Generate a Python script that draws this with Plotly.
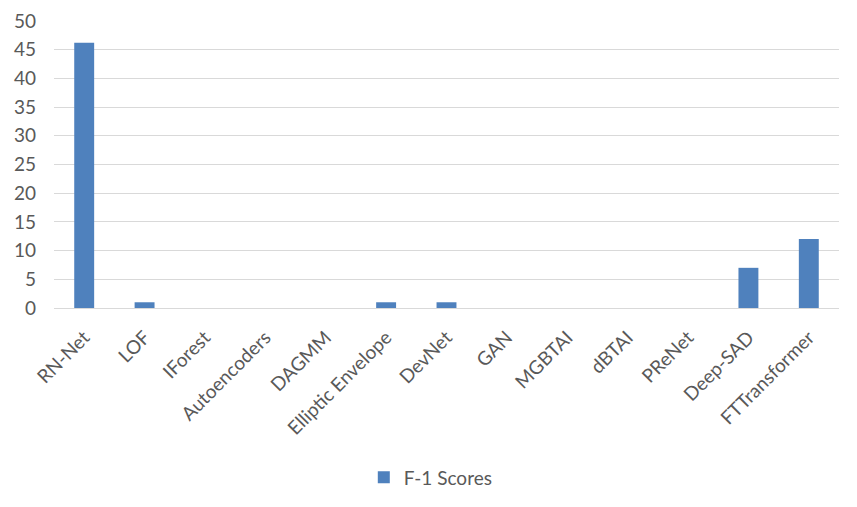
import plotly.graph_objects as go

methods = ["RN-Net", "LOF", "IForest", "Autoencoders", "DAGMM", "Elliptic Envelope",
           "DevNet", "GAN", "MGBTAI", "dBTAI", "PReNet", "Deep-SAD", "FTTransformer"]
f1_scores = [46.2, 1, 0, 0, 0, 1, 1, 0, 0, 0, 0, 7, 12]

fig = go.Figure()
fig.add_trace(go.Bar(
    x=methods, y=f1_scores, name="F-1 Scores",
    marker=dict(color="#4F81BD", line=dict(width=0)),
))

# page body has an 8px margin, so the margins below are shifted by it
fig.update_layout(
    width=857, height=507,
    margin=dict(l=46, r=26, t=13, b=207, autoexpand=False),
    plot_bgcolor="white", paper_bgcolor="white",
    bargap=0.67,
    font=dict(family="Lato, Open Sans, sans-serif", color="#595959", size=16),
    showlegend=True,
    legend=dict(orientation="h", x=0.48, xanchor="center", y=-0.59, yanchor="middle",
                itemwidth=30, font=dict(size=19, color="#595959")),
)
fig.update_yaxes(range=[0, 50], dtick=5, showgrid=True, gridcolor="#D9D9D9",
                 gridwidth=1, zeroline=False, showline=False, ticks="",
                 tickfont=dict(size=19), automargin=False, ticklabelstandoff=17)
fig.update_xaxes(tickangle=-45, showline=True, linecolor="#D9D9D9", linewidth=1,
                 ticks="", tickfont=dict(size=19), automargin=False,
                 ticklabelstandoff=10)

fig.write_html("out.html")
